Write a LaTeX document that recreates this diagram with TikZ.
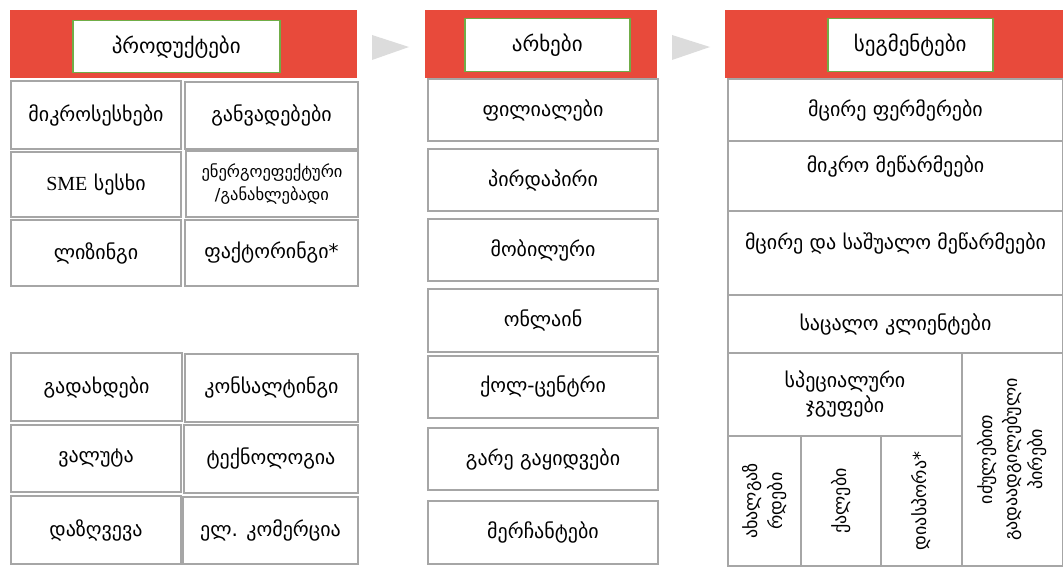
\documentclass[tikz,border=0pt]{standalone}
\usepackage{fontspec}
\setmainfont{Liberation Serif}
\newfontfamily\geo{DejaVu Sans}
\definecolor{headred}{HTML}{E84A3B}
\definecolor{titlegreen}{HTML}{70AD47}
\definecolor{cellgray}{HTML}{A6A6A6}
\definecolor{arrowgray}{HTML}{DCDCDC}
\tikzset{
  head/.style={fill=headred, draw=none, anchor=north west, inner sep=0},
  title/.style={fill=white, draw=titlegreen, line width=1.5pt, anchor=north west,
    inner sep=0, font=\geo\fontsize{21}{24}\selectfont},
  cell/.style={fill=white, draw=cellgray, line width=2pt, anchor=north west,
    inner sep=0, align=center, font=\geo\fontsize{20}{25}\selectfont},
  small/.style={font=\geo\fontsize{16.5}{23}\selectfont},
  lift/.style={text depth=#1},
  vtext/.style={rotate=90, align=center, font=\geo\fontsize{18}{25}\selectfont}
}
\begin{document}
\begin{tikzpicture}[x=1pt,y=-1pt]
\useasboundingbox (0,0) rectangle (1063,567);

% products
\node[head, minimum width=347, minimum height=68] (hp) at (10,10) {};
\node[title, minimum width=207, minimum height=52] (tp) at (72,20) {პროდუქტები};
\node[cell, minimum width=170, minimum height=68] (p1) at (10,80) {მიკროსესხები};
\node[cell, minimum width=173, minimum height=67] (p2) at (184,81) {განვადებები};
\node[cell, minimum width=170, minimum height=65] (p3) at (10,151) {{\rmfamily SME} სესხი};
\node[cell, small, minimum width=172, minimum height=66] (p4) at (185,150) {ენერგოეფექტური\\/განახლებადი};
\node[cell, minimum width=170, minimum height=66] (p5) at (10,219) {ლიზინგი};
\node[cell, minimum width=173, minimum height=66] (p6) at (184,219) {ფაქტორინგი*};
\node[cell, minimum width=171, minimum height=68] (p7) at (10,352) {გადახდები};
\node[cell, minimum width=173, minimum height=68] (p8) at (184,353) {კონსალტინგი};
\node[cell, minimum width=170, minimum height=67] (p9) at (10,424) {ვალუტა};
\node[cell, minimum width=174, minimum height=68] (p10) at (183,424) {ტექნოლოგია};
\node[cell, minimum width=170, minimum height=68] (p11) at (10,495) {დაზღვევა};
\node[cell, minimum width=175, minimum height=67] (p12) at (182,496) {ელ. კომერცია};

\fill[arrowgray] (372,35) -- (409,47) -- (372,60) -- cycle;

% channels
\node[head, minimum width=232, minimum height=68] (hc) at (425,10) {};
\node[title, minimum width=165, minimum height=53] (tc) at (464,18) {არხები};
\node[cell, minimum width=230, minimum height=62] (c1) at (427,78) {ფილიალები};
\node[cell, minimum width=230, minimum height=62] (c2) at (427,148) {პირდაპირი};
\node[cell, minimum width=230, minimum height=62] (c3) at (427,218) {მობილური};
\node[cell, minimum width=230, minimum height=63] (c4) at (427,288) {ონლაინ};
\node[cell, minimum width=230, minimum height=62] (c5) at (427,355) {ქოლ-ცენტრი};
\node[cell, minimum width=230, minimum height=62] (c6) at (427,427) {გარე გაყიდვები};
\node[cell, minimum width=230, minimum height=63] (c7) at (427,500) {მერჩანტები};

\fill[arrowgray] (672,35) -- (710,47) -- (672,60) -- cycle;

% segments
\node[head, minimum width=338, minimum height=68] (hs) at (725,10) {};
\node[title, minimum width=165, minimum height=53] (ts) at (827,18) {სეგმენტები};
\node[cell, minimum width=335, minimum height=62] (s1) at (727,78) {მცირე ფერმერები};
\node[cell, lift=24pt, minimum width=335, minimum height=70] (s2) at (727,140) {მიკრო მეწარმეები};
\node[cell, lift=24pt, minimum width=335, minimum height=84] (s3) at (727,210) {მცირე და საშუალო მეწარმეები};
\node[cell, minimum width=335, minimum height=58] (s4) at (727,294) {საცალო კლიენტები};
\node[cell, minimum width=234, minimum height=83] (s5) at (727,352) {სპეციალური\\ჯგუფები};
\node[cell, minimum width=73, minimum height=130,
  label={[vtext]center:ახალგაზ\\რდები}] (s6) at (727,435) {};
\node[cell, minimum width=80, minimum height=130,
  label={[vtext]center:ქალები}] (s7) at (800,435) {};
\node[cell, minimum width=81, minimum height=130,
  label={[vtext]center:დიასპორა*}] (s8) at (880,435) {};
\node[cell, minimum width=101, minimum height=213,
  label={[vtext]center:იძულებით\\გადაადგილებული\\პირები}] (s9) at (961,352) {};
\end{tikzpicture}
\end{document}
